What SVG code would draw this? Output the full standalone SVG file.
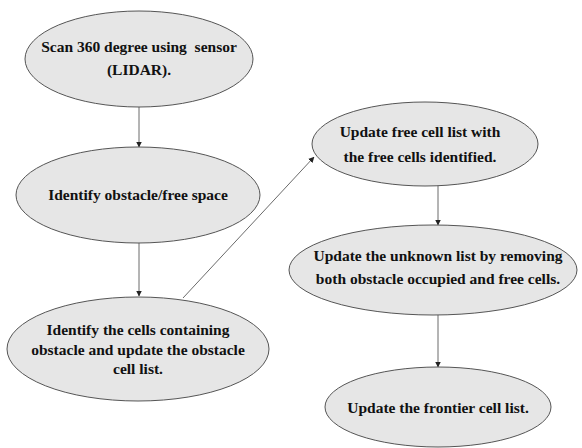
<svg xmlns="http://www.w3.org/2000/svg" width="582" height="448" viewBox="0 0 582 448">
<defs>
<marker id="ah" markerWidth="6" markerHeight="6" refX="5.5" refY="3" orient="auto" markerUnits="userSpaceOnUse">
<path d="M0,0 L6,3 L0,6 Z" fill="#222"/>
</marker>
<style>
.n ellipse{fill:#e6e6e6;stroke:#555;stroke-width:1}
.n text{font-family:"Liberation Serif","Times New Roman",serif;font-weight:bold;font-size:15.5px;fill:#111;text-anchor:middle}
.c line{stroke:#444;stroke-width:0.8;marker-end:url(#ah)}
</style>
</defs>
<rect width="582" height="448" fill="#fff"/>
<g class="c" id="connectors">
<line x1="139" y1="107" x2="139" y2="147"/>
<line x1="139" y1="243" x2="139" y2="296"/>
<line x1="183" y1="298" x2="314" y2="157"/>
<line x1="438" y1="186" x2="438" y2="225"/>
<line x1="438" y1="315" x2="438" y2="367"/>
</g>
<g class="n" id="n1">
<ellipse cx="139" cy="59" rx="114" ry="48"/>
<text x="139" y="52">Scan 360 degree using &#160;sensor</text>
<text x="139" y="75">(LIDAR).</text>
</g>
<g class="n" id="n2">
<ellipse cx="138" cy="195" rx="122" ry="48"/>
<text x="138" y="200">Identify obstacle/free space</text>
</g>
<g class="n" id="n3">
<ellipse cx="138" cy="349" rx="131" ry="52"/>
<text x="138" y="335">Identify the cells containing</text>
<text x="138" y="355">obstacle and update the obstacle</text>
<text x="138" y="374">cell list.</text>
</g>
<g class="n" id="n4">
<ellipse cx="425" cy="144" rx="113" ry="42"/>
<text x="420" y="137">Update free cell list with</text>
<text x="420" y="162">the free cells identified.</text>
</g>
<g class="n" id="n5">
<ellipse cx="433" cy="270" rx="144" ry="45"/>
<text x="438" y="261">Update the unknown list by removing</text>
<text x="438" y="284">both obstacle occupied and free cells.</text>
</g>
<g class="n" id="n6">
<ellipse cx="438" cy="407" rx="113" ry="40"/>
<text x="438" y="413">Update the frontier cell list.</text>
</g>
</svg>
